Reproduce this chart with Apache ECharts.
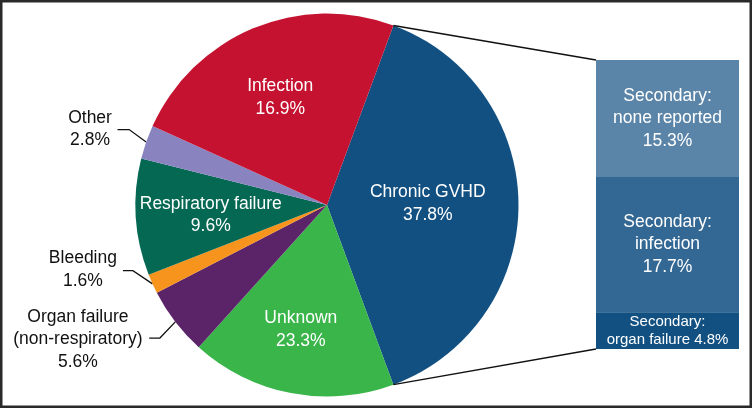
<!DOCTYPE html>
<html>
<head>
<meta charset="utf-8">
<script src="https://cdn.jsdelivr.net/npm/echarts@6/dist/echarts.min.js"></script>
<style>
html,body{margin:0;padding:0;background:#fff;}
#chart{width:752px;height:410px;}
</style>
</head>
<body>
<div id="chart"></div>
<script>
// ---- Data (pie slices listed clockwise, starting with Chronic GVHD) ----
const causes = ['Chronic GVHD', 'Unknown', 'Organ failure\n(non-respiratory)', 'Bleeding', 'Respiratory failure', 'Other', 'Infection'];
// angular share of each slice as drawn in the reference picture
const sliceShares = [37.8, 16.9, 5.6, 1.6, 9.6, 2.8, 23.3];
// percentages as printed on the reference labels
const labelPercents = ['37.8%', '23.3%', '5.6%', '1.6%', '9.6%', '2.8%', '16.9%'];
const sliceColors = ['#125082', '#39b54a', '#5b2468', '#f7941d', '#046852', '#8983c0', '#c41230'];

// Breakdown bar of Chronic GVHD (top to bottom)
const secondaryNames = ['none reported', 'infection', 'organ failure'];
const secondaryValues = [15.3, 17.7, 4.8];
const secondaryColors = ['#5b85a8', '#346894', '#125082'];

// ---- Layout / style constants ----
const FONT = "'Liberation Sans', Arial, Helvetica, sans-serif";
const CX = 327, CY = 205, R = 191.5, START = 69.7;
const BAR_LEFT = 596, BAR_TOP = 60, BAR_W = 143, BAR_H = 289;

// label placement tweaks (relative to library-computed anchors)
const insideShift = { 0: [2, -1.5], 1: [-7.5, 27.5], 4: [-17.7, 3.6], 6: [-8.7, -16] };
const outsideGuide = {
  2: { kink: [-15.4, 16.2], tail: 10.7, textDx: -71.3, textDy: 1.3 },
  3: { kink: [-19.6, -13.2], tail: 10, textDx: -40, textDy: -1.2 },
  5: { kink: [-17, -12.5], tail: 11.6, textDx: -27.5, textDy: -0.5 }
};

const total = sliceShares.reduce((a, b) => a + b, 0);
function edgePoint(i) {
  let before = 0;
  for (let k = 0; k < i; k++) before += sliceShares[k];
  const mid = START - 360 * (before + sliceShares[i] / 2) / total;
  const a = mid * Math.PI / 180;
  return [CX + R * Math.cos(a), CY - R * Math.sin(a)];
}

const chart = echarts.init(document.getElementById('chart'), null, { renderer: 'canvas' });

const pieData = causes.map((name, i) => {
  const item = { name: name, value: sliceShares[i], itemStyle: { color: sliceColors[i] } };
  if (outsideGuide[i]) {
    item.label = { position: 'outside', color: '#111' };
    item.labelLine = { show: true, length: 12, length2: 10, lineStyle: { color: '#111', width: 1.3 } };
  }
  return item;
});

const barSeries = secondaryValues.map((v, i) => ({
  type: 'bar',
  stack: 'secondary',
  barWidth: '100%',
  barCategoryGap: 0,
  silent: true,
  data: [v],
  itemStyle: { color: secondaryColors[i] },
  label: {
    show: true,
    position: 'inside',
    color: '#fff',
    fontFamily: FONT,
    fontSize: i === 2 ? 15 : 17.5,
    lineHeight: i === 2 ? 18 : 22.5,
    formatter: i === 2
      ? 'Secondary:\n' + secondaryNames[i] + ' ' + v + '%'
      : 'Secondary:\n' + secondaryNames[i] + '\n' + v + '%'
  }
}));

chart.setOption({
  animation: false,
  backgroundColor: '#fff',
  grid: { left: BAR_LEFT, top: BAR_TOP, width: BAR_W, height: BAR_H, containLabel: false },
  xAxis: { type: 'category', data: ['Chronic GVHD'], show: false },
  yAxis: { type: 'value', min: 0, max: 37.8, inverse: true, show: false },
  series: [
    {
      type: 'pie',
      center: [CX, CY],
      radius: R,
      startAngle: START,
      clockwise: true,
      avoidLabelOverlap: false,
      silent: true,
      itemStyle: { borderWidth: 0 },
      label: {
        position: 'inside',
        color: '#fff',
        fontFamily: FONT,
        fontSize: 17.5,
        lineHeight: 22.5,
        formatter: p => causes[p.dataIndex] + '\n' + labelPercents[p.dataIndex]
      },
      labelLine: { show: false },
      labelLayout: function (p) {
        const i = p.dataIndex;
        const g = outsideGuide[i];
        if (g) {
          const p1 = (p.labelLinePoints && p.labelLinePoints[0]) ? p.labelLinePoints[0] : edgePoint(i);
          const p2 = [p1[0] + g.kink[0], p1[1] + g.kink[1]];
          const p3 = [p2[0] - g.tail, p2[1]];
          return {
            x: p3[0] + g.textDx, y: p3[1] + g.textDy,
            align: 'center', verticalAlign: 'middle',
            labelLinePoints: [p1, p2, p3]
          };
        }
        const s = insideShift[i] || [0, 0];
        const r = p.labelRect;
        return {
          x: r.x + r.width / 2 + s[0], y: r.y + r.height / 2 + s[1],
          align: 'center', verticalAlign: 'middle'
        };
      },
      data: pieData
    }
  ].concat(barSeries)
});

// connector lines from the Chronic GVHD slice edges to the breakdown bar
const a0 = START * Math.PI / 180;
const a1 = (START - 360 * sliceShares[0] / total) * Math.PI / 180;
const pTop = [CX + R * Math.cos(a0), CY - R * Math.sin(a0)];
const pBot = [CX + R * Math.cos(a1), CY - R * Math.sin(a1)];
const secTotal = secondaryValues.reduce((a, b) => a + b, 0);
const yTop = chart.convertToPixel({ xAxisIndex: 0, yAxisIndex: 0 }, [0, 0])[1];
const yBot = chart.convertToPixel({ xAxisIndex: 0, yAxisIndex: 0 }, [0, secTotal])[1];

chart.setOption({
  graphic: [
    { type: 'line', silent: true, z: 10, shape: { x1: pTop[0], y1: pTop[1], x2: BAR_LEFT, y2: yTop }, style: { stroke: '#111', lineWidth: 1.5 } },
    { type: 'line', silent: true, z: 10, shape: { x1: pBot[0], y1: pBot[1], x2: BAR_LEFT, y2: yBot }, style: { stroke: '#111', lineWidth: 1.5 } },
    { type: 'rect', silent: true, z: 20, shape: { x: 1.25, y: 1.25, width: 749.5, height: 405.5 }, style: { fill: 'none', stroke: '#2a2a2a', lineWidth: 2.5 } }
  ]
});
</script>
</body>
</html>
